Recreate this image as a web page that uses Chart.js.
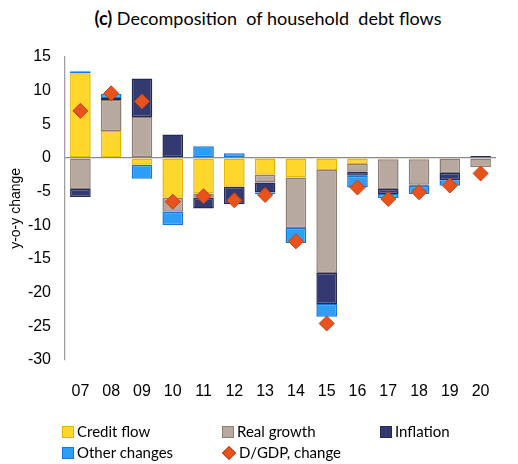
<!DOCTYPE html>
<html lang="en">
<head>
  <meta charset="UTF-8" />
  <title>Decomposition of household debt flows</title>
  <script src="https://cdn.jsdelivr.net/npm/chart.js"></script>
  <style>
    body{margin:0;background:#fff;}
    #wrap{position:relative;width:518px;height:464px;overflow:hidden;}
    #title{position:absolute;left:0;top:7px;width:536px;text-align:center;font-family:Lato,sans-serif;font-size:18px;color:#000;}
    #title b{font-weight:700;}
    canvas{position:absolute;left:0;top:0;}
    #legend{position:absolute;left:62px;top:421px;font-family:Lato,sans-serif;font-size:15px;color:#000;}
    .item{position:absolute;white-space:nowrap;height:20px;line-height:20px;}
    .box{display:inline-block;width:10px;height:10px;border:1.5px solid;vertical-align:-1px;margin-right:3px;}
    .dia{display:inline-block;width:8px;height:8px;border:1px solid;transform:rotate(45deg);margin:0 5px 0 2px;vertical-align:0px;}
  </style>
</head>
<body>
<div id="wrap">
  <div id="title"><b>(c)</b> Decomposition&nbsp; of household&nbsp; debt flows</div>
  <canvas id="chart" width="518" height="464"></canvas>
  <div id="legend"></div>
</div>

<script>
// ── data ───────────────────────────────────────────────────────
const years      = ['07','08','09','10','11','12','13','14','15','16','17','18','19','20'];
const credit     = [12.6, 4.0, -1.0, -5.9, -5.3, -4.3, -2.5, -2.9, -1.8, -0.9, -0.2, -0.2, 0, 0];
const realGrowth = [-4.6, 4.6, 6.1, -2.1, -0.6, 0, -1.15, -7.5, -15.3, -1.15, -4.4, -3.8, -2.25, -1.4];
const inflation  = [-1.2, 0.3, 5.7, 3.5, -1.6, -2.6, -1.5, 0, -4.6, -0.6, -0.75, -0.15, -1.05, 0.3];
const other      = [0.3, 0.6, -2.1, -2.0, 1.75, 0.7, -0.25, -2.25, -1.9, -1.75, -0.65, -1.2, -0.85, 0];
const dgdp       = [7.0, 9.6, 8.4, -6.5, -5.7, -6.3, -5.5, -12.4, -24.6, -4.4, -6.1, -5.1, -4.1, -2.3];
const yTicks     = [15, 10, 5, 0, -5, -10, -15, -20, -25, -30];

// ── styles ─────────────────────────────────────────────────────
const C = {
  credit:  {fill:'#FFD62C', line:'#E3B50C'},
  real:    {fill:'#B7A8A0', line:'#8E7C72'},
  infl:    {fill:'#333A72', line:'#232957'},
  other:   {fill:'#2E9DF4', line:'#1478DA'},
  dgdp:    {fill:'#E8521B', line:'#BF4318'}
};

function barSet(label, data, c){
  return {label, data, type:'bar', stack:'bars', order:1,
    backgroundColor:c.fill, borderColor:c.line, borderWidth:1.5, borderSkipped:false,
    barPercentage:0.67, categoryPercentage:1};
}

const datasets = [
  barSet('Credit flow', credit, C.credit),
  barSet('Real growth', realGrowth, C.real),
  barSet('Inflation', inflation, C.infl),
  barSet('Other changes', other, C.other),
  {label:'D/GDP, change', data:dgdp, type:'line', stack:'pts', order:0, showLine:false,
   pointStyle:'rectRot', pointRadius:7.5, pointHoverRadius:7.5,
   backgroundColor:C.dgdp.fill, borderColor:C.dgdp.line, borderWidth:1}
];

new Chart(document.getElementById('chart'), {
  type:'bar',
  data:{labels:years, datasets},
  options:{
    responsive:false, animation:false,
    layout:{padding:{top:57, right:22, bottom:49, left:0}},
    plugins:{legend:{display:false}, tooltip:{enabled:false}},
    scales:{
      x:{stacked:true,
        grid:{display:false},
        border:{display:false},
        ticks:{color:'#000', padding:14, font:{family:'Liberation Sans', size:16}}
      },
      y:{stacked:true, min:-30, max:15,
        afterFit(s){ s.width = 65; },
        afterBuildTicks(s){ s.ticks = yTicks.map(v => ({value:v})); },
        grid:{drawTicks:false, lineWidth:1.3,
          color:ctx => ctx.tick && ctx.tick.value === 0 ? '#8a8a8a' : 'rgba(0,0,0,0)'},
        border:{display:true, color:'#a0a0a0', width:1.3},
        title:{display:true, text:'y-o-y change', color:'#000', padding:{top:8, bottom:0},
          font:{family:'Liberation Sans', size:14}},
        ticks:{color:'#000', padding:14, font:{family:'Liberation Sans', size:16}}
      }
    }
  }
});

// ── legend laid out in columns like the reference ──────────────
const legendCols = [0, 160, 318];
const legendEl = document.getElementById('legend');
datasets.forEach((d, i) => {
  const el = document.createElement('div');
  el.className = 'item';
  el.style.left = legendCols[i % 3] + 'px';
  el.style.top = (i < 3 ? 0 : 21) + 'px';
  const mark = d.type === 'line'
    ? `<span class="dia" style="background:${d.backgroundColor};border-color:${d.borderColor}"></span>`
    : `<span class="box" style="background:${d.backgroundColor};border-color:${d.borderColor}"></span>`;
  el.innerHTML = mark + d.label;
  legendEl.appendChild(el);
});
</script>
</body>
</html>
